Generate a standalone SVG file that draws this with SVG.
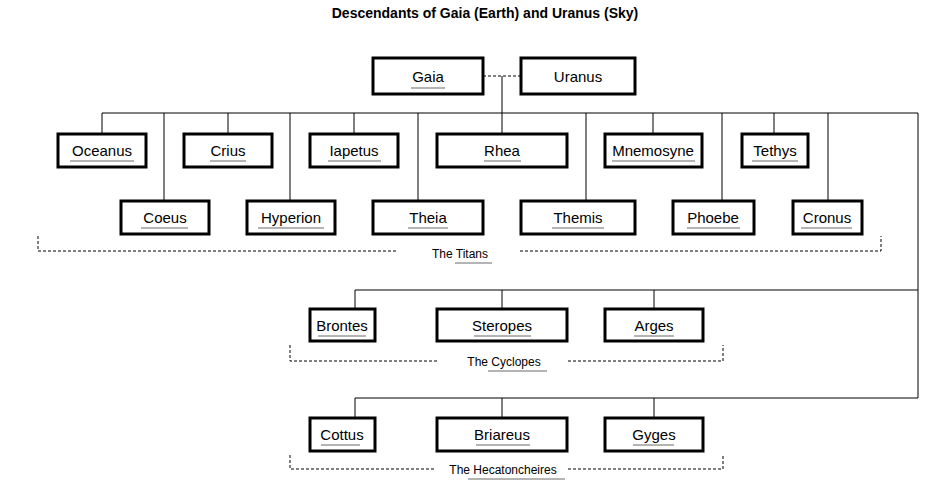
<svg xmlns="http://www.w3.org/2000/svg" width="925" height="489" viewBox="0 0 925 489">
<style>
.b{fill:#fff;stroke:#000;stroke-width:3}
text{font-family:"Liberation Sans",Arial,sans-serif;font-size:15px;text-anchor:middle;fill:#000}
.u{stroke:#b4b4b4;stroke-width:2}
.l{stroke:#000;stroke-width:1;fill:none}
.d{stroke:#000;stroke-width:1;fill:none;stroke-dasharray:3,2}
.s{font-size:12px}
</style>
<rect width="925" height="489" fill="#fff"/>
<text x="485" y="18" style="font-weight:bold;font-size:14px">Descendants of Gaia (Earth) and Uranus (Sky)</text>
<g id="connectors">
<path class="d" d="M483 76H521"/>
<path class="l" d="M502 76V134M102 113H918V398M102 113V134M164 113V201M228 113V134M290 113V201M354 113V134M418 113V201M586 113V201M653 113V134M722 113V201M774 113V134M828 113V201"/>
<path class="l" d="M355 290H918M355 290V309M502 290V309M654 290V309M355 398H918M355 398V418M502 398V418M654 398V418"/>
<path class="d" d="M38 236V251H398M520 251H881V236M290 345V361H437M568 361H723V345M290 455V469H436M568 469H723V455"/>
</g>
<g id="labels">
<text class="s" x="460" y="258">The Titans</text><line class="u" x1="455" y1="263" x2="492" y2="263"/>
<text class="s" x="504" y="366">The Cyclopes</text><line class="u" x1="488" y1="371" x2="547" y2="371"/>
<text class="s" x="503" y="474">The Hecatoncheires</text><line class="u" x1="468" y1="479" x2="565" y2="479"/>
</g>
<g id="gaia"><rect class="b" x="373" y="58" width="110" height="36"/><text x="428" y="82">Gaia</text><line class="u" x1="411" y1="88" x2="445" y2="88"/></g>
<g id="uranus"><rect class="b" x="521" y="58" width="114" height="36"/><text x="578" y="82">Uranus</text></g>
<g id="oceanus"><rect class="b" x="58" y="134" width="88" height="33"/><text x="102" y="156">Oceanus</text><line class="u" x1="70" y1="161" x2="134" y2="161"/></g>
<g id="crius"><rect class="b" x="184" y="134" width="88" height="33"/><text x="228" y="156">Crius</text><line class="u" x1="210" y1="161" x2="246" y2="161"/></g>
<g id="iapetus"><rect class="b" x="310" y="134" width="88" height="33"/><text x="354" y="156">Iapetus</text><line class="u" x1="328" y1="161" x2="381" y2="161"/></g>
<g id="rhea"><rect class="b" x="437" y="134" width="130" height="33"/><text x="502" y="156">Rhea</text><line class="u" x1="484" y1="161" x2="521" y2="161"/></g>
<g id="mnemosyne"><rect class="b" x="605" y="134" width="97" height="33"/><text x="653" y="156">Mnemosyne</text><line class="u" x1="612" y1="161" x2="695" y2="161"/></g>
<g id="tethys"><rect class="b" x="742" y="134" width="66" height="33"/><text x="775" y="156">Tethys</text><line class="u" x1="752" y1="161" x2="798" y2="161"/></g>
<g id="coeus"><rect class="b" x="121" y="201" width="88" height="33"/><text x="165" y="223">Coeus</text><line class="u" x1="141" y1="228" x2="188" y2="228"/></g>
<g id="hyperion"><rect class="b" x="247" y="201" width="88" height="33"/><text x="291" y="223">Hyperion</text><line class="u" x1="258" y1="228" x2="324" y2="228"/></g>
<g id="theia"><rect class="b" x="373" y="201" width="110" height="33"/><text x="428" y="223">Theia</text><line class="u" x1="408" y1="228" x2="448" y2="228"/></g>
<g id="themis"><rect class="b" x="521" y="201" width="114" height="33"/><text x="578" y="223">Themis</text><line class="u" x1="552" y1="228" x2="604" y2="228"/></g>
<g id="phoebe"><rect class="b" x="673" y="201" width="81" height="33"/><text x="713" y="223">Phoebe</text><line class="u" x1="687" y1="228" x2="740" y2="228"/></g>
<g id="cronus"><rect class="b" x="793" y="201" width="69" height="33"/><text x="827" y="223">Cronus</text><line class="u" x1="801" y1="228" x2="852" y2="228"/></g>
<g id="brontes"><rect class="b" x="310" y="309" width="65" height="32"/><text x="342" y="331">Brontes</text><line class="u" x1="318" y1="336" x2="366" y2="336"/></g>
<g id="steropes"><rect class="b" x="437" y="309" width="130" height="32"/><text x="502" y="331">Steropes</text><line class="u" x1="474" y1="336" x2="531" y2="336"/></g>
<g id="arges"><rect class="b" x="605" y="309" width="98" height="32"/><text x="654" y="331">Arges</text><line class="u" x1="634" y1="336" x2="674" y2="336"/></g>
<g id="cottus"><rect class="b" x="310" y="418" width="65" height="33"/><text x="342" y="440">Cottus</text><line class="u" x1="321" y1="445" x2="360" y2="445"/></g>
<g id="briareus"><rect class="b" x="437" y="418" width="130" height="33"/><text x="502" y="440">Briareus</text><line class="u" x1="476" y1="445" x2="530" y2="445"/></g>
<g id="gyges"><rect class="b" x="605" y="418" width="98" height="33"/><text x="654" y="440">Gyges</text><line class="u" x1="633" y1="445" x2="674" y2="445"/></g>
</svg>
